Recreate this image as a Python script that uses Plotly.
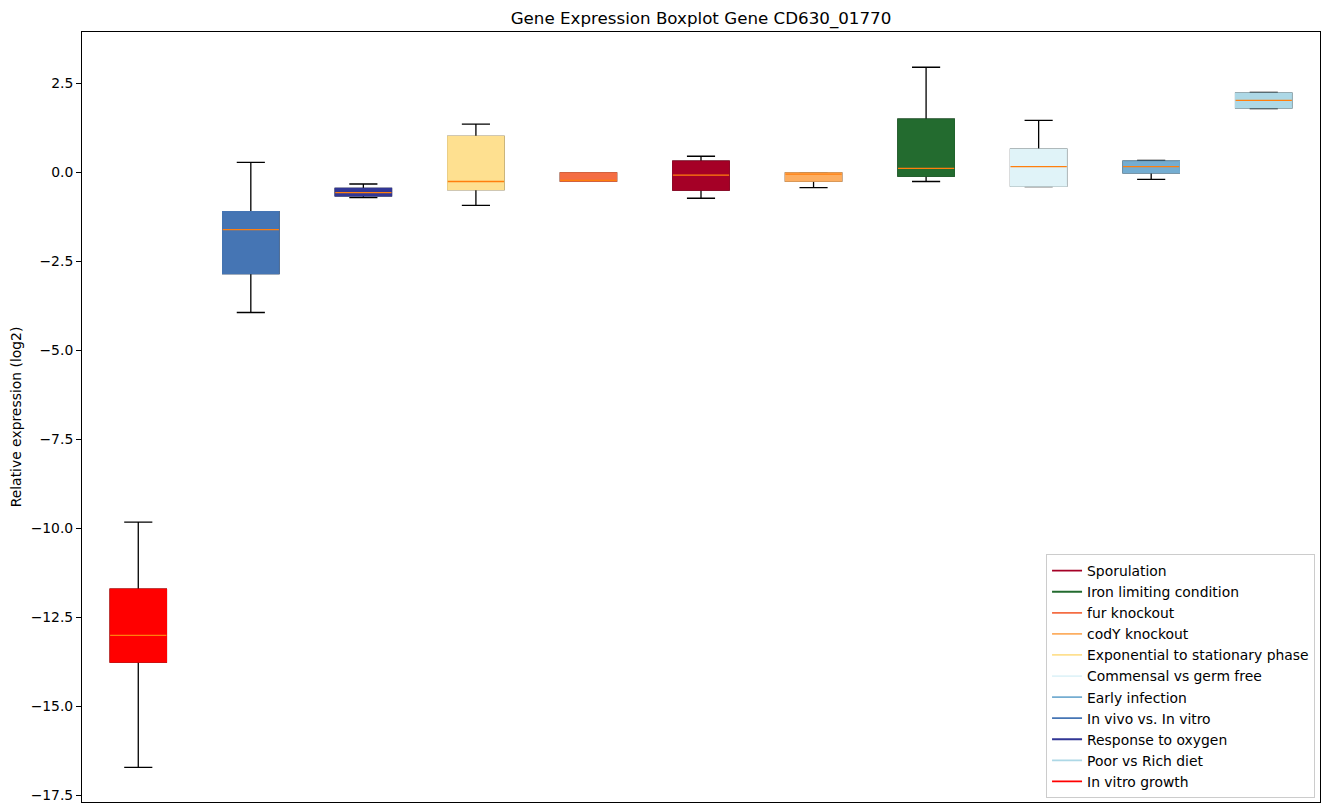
import plotly.graph_objects as go

# Box order along x (positions 1..11)
conditions = ["In vitro growth", "In vivo vs. In vitro", "Response to oxygen",
              "Exponential to stationary phase", "fur knockout", "Sporulation",
              "codY knockout", "Iron limiting condition", "Commensal vs germ free",
              "Early infection", "Poor vs Rich diet"]
colors = ["#ff0000", "#4575b4", "#313695", "#fee090", "#f46d43", "#a50026",
          "#fdae61", "#236b2f", "#e0f3f8", "#74add1", "#add8e6"]
lower_whisker = [-16.71, -3.93, -0.70, -0.92, -0.24, -0.72, -0.42, -0.25, -0.39, -0.19, 1.80]
q1 = [-13.75, -2.84, -0.65, -0.48, -0.24, -0.49, -0.24, -0.10, -0.38, -0.005, 1.82]
median = [-13.0, -1.60, -0.56, -0.25, -0.22, -0.07, -0.04, 0.12, 0.17, 0.17, 2.03]
q3 = [-11.70, -1.10, -0.44, 1.02, -0.005, 0.32, -0.005, 1.50, 0.66, 0.32, 2.23]
upper_whisker = [-9.82, 0.29, -0.32, 1.36, -0.005, 0.46, 0.0, 2.96, 1.47, 0.34, 2.25]

legend_order = ["Sporulation", "Iron limiting condition", "fur knockout", "codY knockout",
                "Exponential to stationary phase", "Commensal vs germ free", "Early infection",
                "In vivo vs. In vitro", "Response to oxygen", "Poor vs Rich diet", "In vitro growth"]

y_ticks = [2.5, 0.0, -2.5, -5.0, -7.5, -10.0, -12.5, -15.0, -17.5]
y_ticktext = ["2.5", "0.0", "\u22122.5", "\u22125.0", "\u22127.5", "\u221210.0",
              "\u221212.5", "\u221215.0", "\u221217.5"]

fig = go.Figure()
for i, name in enumerate(conditions):
    x = [i + 1]
    # whiskers + caps (black)
    fig.add_trace(go.Box(x=x, q1=[q1[i]], median=[median[i]], q3=[q3[i]],
                         lowerfence=[lower_whisker[i]], upperfence=[upper_whisker[i]],
                         width=0.5, whiskerwidth=0.5, line=dict(color="black", width=1.3),
                         fillcolor=colors[i], showlegend=False, hoverinfo="skip"))
    # filled box covering black outline
    fig.add_trace(go.Box(x=x, q1=[q1[i]], median=[q1[i]], q3=[q3[i]],
                         lowerfence=[q1[i]], upperfence=[q3[i]],
                         width=0.5, whiskerwidth=0, line=dict(color=colors[i], width=1.3),
                         fillcolor=colors[i], showlegend=False, hoverinfo="skip"))
    # median line (orange)
    fig.add_trace(go.Box(x=x, q1=[median[i]], median=[median[i]], q3=[median[i]],
                         lowerfence=[median[i]], upperfence=[median[i]],
                         width=0.5, whiskerwidth=0, line=dict(color="#ff7f0e", width=1.3),
                         fillcolor="#ff7f0e", showlegend=False, hoverinfo="skip"))

for name in legend_order:
    c = colors[conditions.index(name)]
    fig.add_trace(go.Scatter(x=[None], y=[None], mode="lines", name=name,
                             line=dict(color=c, width=1.8)))

W, H = 1315, 797
fig.update_layout(
    width=W, height=H,
    margin=dict(l=74, r=3, t=24, b=3, autoexpand=False),
    paper_bgcolor="white", plot_bgcolor="white",
    font=dict(family="DejaVu Sans", size=13.9, color="black"),
    title=dict(text="Gene Expression Boxplot Gene CD630_01770",
               x=0.5, xref="paper", xanchor="center",
               y=1 - 10 / H, yanchor="middle", font=dict(size=16.7)),
    boxmode="overlay",
    showlegend=True,
    legend=dict(x=0.996, y=0.005, xanchor="right", yanchor="bottom",
                bordercolor="#cccccc", borderwidth=1, bgcolor="rgba(255,255,255,0.8)",
                font=dict(size=13.9), tracegroupgap=0, itemwidth=30),
    xaxis=dict(range=[0.5, 11.5], showticklabels=False, ticks="", showgrid=False,
               zeroline=False, showline=True, linecolor="black", linewidth=1, mirror=True),
    yaxis=dict(range=[-17.68, 3.95], tickvals=y_ticks, ticktext=y_ticktext,
               ticks="outside", ticklen=5, tickcolor="black", showgrid=False, zeroline=False,
               showline=True, linecolor="black", linewidth=1, mirror=True, automargin=False,
               title=dict(text="Relative expression (log2)", font=dict(size=13.9), standoff=8)),
)

fig.write_html("out.html")
